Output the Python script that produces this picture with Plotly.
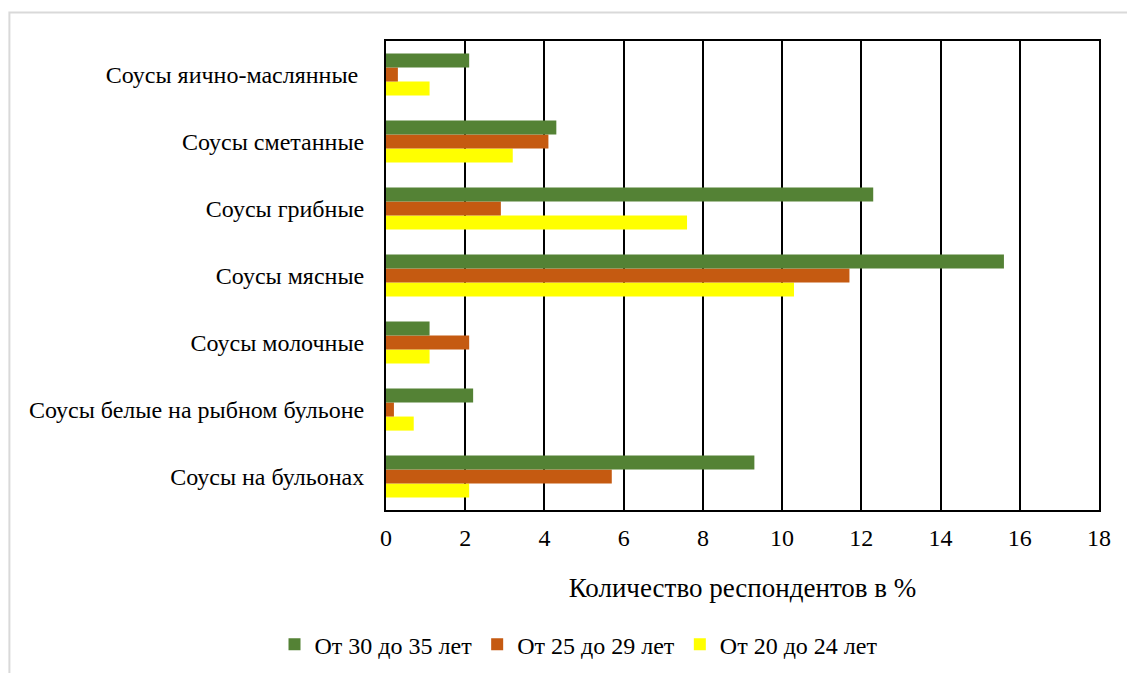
import plotly.graph_objects as go

# Sauce categories, listed bottom to top
categories = [
    "Соусы на бульонах",
    "Соусы белые на рыбном бульоне",
    "Соусы молочные",
    "Соусы мясные",
    "Соусы грибные",
    "Соусы сметанные",
    "Соусы яично-маслянные\u00a0",
]

age_30_35 = [9.3, 2.2, 1.1, 15.6, 12.3, 4.3, 2.1]
age_25_29 = [5.7, 0.2, 2.1, 11.7, 2.9, 4.1, 0.3]
age_20_24 = [2.1, 0.7, 1.1, 10.3, 7.6, 3.2, 1.1]

x_ticks = [0, 2, 4, 6, 8, 10, 12, 14, 16, 18]

FONT = "Liberation Serif"

fig = go.Figure()
# Traces added bottom-up within each group: yellow, orange, green
fig.add_trace(go.Bar(y=categories, x=age_20_24, orientation="h",
                     name="От 20 до 24 лет", marker=dict(color="#FFFF00", line=dict(width=0))))
fig.add_trace(go.Bar(y=categories, x=age_25_29, orientation="h",
                     name="От 25 до 29 лет", marker=dict(color="#C55A11", line=dict(width=0))))
fig.add_trace(go.Bar(y=categories, x=age_30_35, orientation="h",
                     name="От 30 до 35 лет", marker=dict(color="#548235", line=dict(width=0))))

fig.update_layout(
    width=1127, height=673,
    margin=dict(l=386, r=28, t=41, b=163),
    paper_bgcolor="white", plot_bgcolor="white",
    barmode="group", bargap=0.37, bargroupgap=0,
    font=dict(family=FONT, size=24, color="black"),
    showlegend=True,
    legend=dict(orientation="h", traceorder="reversed",
                x=0.27, xanchor="center", yref="container", y=0.042, yanchor="middle",
                font=dict(family=FONT, size=24), itemwidth=30),
    xaxis=dict(range=[0, 18], tickvals=x_ticks, showgrid=True, gridcolor="black",
               gridwidth=2, zeroline=False, showline=True, linecolor="black",
               linewidth=2, mirror=True, ticks="", tickfont=dict(size=24),
               ticklabelstandoff=5, automargin=False,
               title=dict(text="Количество респондентов в %", font=dict(size=27), standoff=28)),
    yaxis=dict(categoryorder="array", categoryarray=categories, showgrid=False,
               showline=True, linecolor="black", linewidth=2, mirror=True,
               ticks="", tickfont=dict(size=24), ticklabelstandoff=15, automargin=False),
    shapes=[dict(type="rect", xref="paper", yref="paper",
                 x0=-0.5282, x1=1.1, y0=-0.5, y1=1.0608,
                 line=dict(color="#d9d9d9", width=2), layer="below")],
)

fig.write_html("out.html")
